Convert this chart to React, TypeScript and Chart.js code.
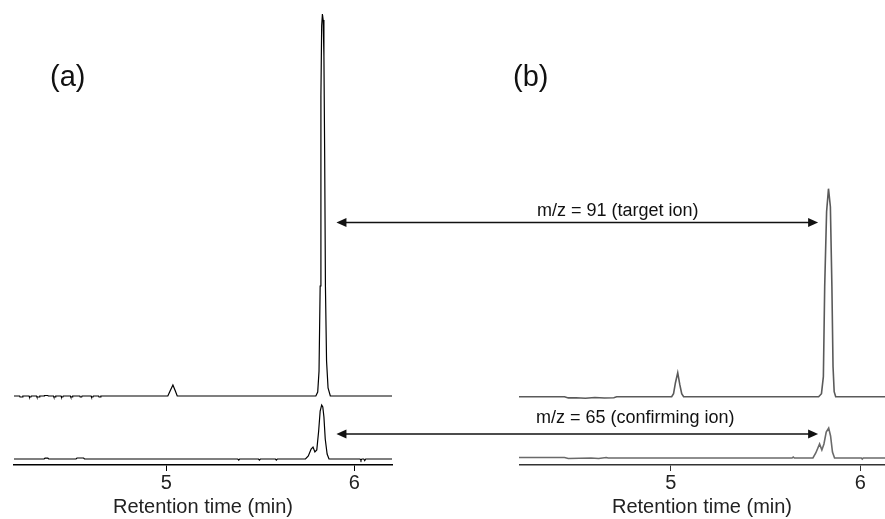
import React, { useEffect, useRef } from 'react';
import { Chart, registerables } from 'chart.js';

Chart.register(...registerables);

// ---------- data (retention time in min, abundance in arbitrary units) ----------
const TICK_VALUES = [5, 6];
const AXIS_TITLE = 'Retention time (min)';
const PANEL_LABELS = ['(a)', '(b)'];
const ION_LABELS = ['m/z = 91 (target ion)', 'm/z = 65 (confirming ion)'];
const PEAK_TIME = 5.83;

// panel (a), m/z 91
const tA91 = [4.19, 4.22, 4.222, 4.235, 4.237, 4.27, 4.272, 4.28, 4.282, 4.31, 4.312, 4.325, 4.327, 4.35, 4.352, 4.37, 4.372, 4.40, 4.402, 4.41, 4.412, 4.44, 4.442, 4.45, 4.452, 4.49, 4.492, 4.50, 4.502, 4.54, 4.542, 4.55, 4.552, 4.60, 4.602, 4.61, 4.612, 4.64, 4.642, 4.65, 4.652, 4.66, 5.008, 5.02, 5.035, 5.048, 5.058, 5.795, 5.805, 5.812, 5.818, 5.822, 5.826, 5.83, 5.834, 5.838, 5.842, 5.846, 5.852, 5.86, 5.872, 6.2];
const iA91 = [0, 0, -1, -1, 0, 0, -1, -1, 0, 0, -1, -1, 0, 0, 0.5, 0.5, 0, 0, -1, -1, 0, 0, -1, -1, 0, 0, -1, -1, 0, 0, -1, -1, 0, 0, -1, -1, 0, 0, -1, -1, 0, 0, 0, 5, 11, 5, 0, 0, 4, 25, 110, 300, 370, 382, 376, 340, 240, 110, 35, 8, 0, 0];

// panel (a), m/z 65
const tA65 = [4.19, 4.35, 4.355, 4.37, 4.375, 4.52, 4.525, 4.56, 4.565, 5.38, 5.385, 5.39, 5.49, 5.495, 5.5, 5.58, 5.585, 5.59, 5.74, 5.755, 5.77, 5.78, 5.79, 5.8, 5.81, 5.818, 5.826, 5.832, 5.838, 5.845, 5.855, 5.865, 6.03, 6.035, 6.04, 6.05, 6.055, 6.06, 6.2];
const iA65 = [0, 0, 0.8, 0.8, 0, 0, 1, 1, 0, 0, -1, 0, 0, -1, 0, 0, -1, 0, 0, 3, 10, 12, 7, 9, 28, 48, 54, 52, 42, 20, 5, 0, 0, -1.5, 0, 0, -1.5, 0, 0];

// panel (b), m/z 91
const tB91 = [4.2, 4.44, 4.46, 4.5, 4.55, 4.6, 4.65, 4.7, 4.715, 5.005, 5.015, 5.025, 5.037, 5.048, 5.058, 5.068, 5.78, 5.795, 5.805, 5.812, 5.822, 5.832, 5.842, 5.85, 5.856, 5.862, 5.87, 6.13];
const iB91 = [0, 0, -1.2, -1, -1.5, -0.8, -1.3, -1, 0, 0, 3, 14, 24, 12, 3, 0, 0, 3, 20, 110, 185, 208, 190, 110, 30, 5, 0, 0];

// panel (b), m/z 65
const tB65 = [4.2, 4.44, 4.46, 4.58, 4.62, 4.66, 4.67, 5.64, 5.646, 5.652, 5.75, 5.765, 5.785, 5.797, 5.808, 5.82, 5.833, 5.843, 5.853, 5.864, 6.005, 6.01, 6.015, 6.13];
const iB65 = [0.5, 0.5, -0.5, 0, -0.5, 0.5, 0, 0, 1, 0, 0, 5, 14, 8, 14, 26, 30, 22, 6, 0, 0, -1, 0, 0];

// ---------- layout ----------
const W = 885;
const H = 519;
const FONT = '"Liberation Sans", Arial, Helvetica, sans-serif';
const A_LEFT = 0;
const A_WIDTH = 400;
const B_LEFT = 519;
const B_WIDTH = W - B_LEFT;
const Y_MAX = 465;

function series(t: number[], v: number[], offset: number) {
  return t.map((x, k) => ({ x, y: v[k] + offset }));
}

function makeOptions(xmin: number, xmax: number, padLeft: number, padRight: number, axisColor: string): any {
  return {
    animation: false,
    responsive: false,
    events: [],
    layout: { padding: { left: padLeft, right: padRight, top: 0, bottom: 0 } },
    plugins: { legend: { display: false }, tooltip: { enabled: false } },
    elements: { point: { radius: 0 }, line: { tension: 0 } },
    scales: {
      x: {
        type: 'linear',
        min: xmin,
        max: xmax,
        afterBuildTicks: (s: any) => {
          s.ticks = TICK_VALUES.map((v) => ({ value: v }));
        },
        grid: { drawOnChartArea: false, drawTicks: true, tickLength: 6, color: axisColor, lineWidth: 1 },
        border: { display: true, color: axisColor, width: 1.5 },
        ticks: { padding: 0, color: '#222', font: { size: 20, family: FONT } },
        title: { display: true, text: AXIS_TITLE, color: '#222', padding: 0, font: { size: 20, family: FONT } },
      },
      y: { display: false, min: 0, max: Y_MAX },
    },
  };
}

function drawArrow(ctx: CanvasRenderingContext2D, x1: number, x2: number, y: number) {
  ctx.strokeStyle = '#111';
  ctx.fillStyle = '#111';
  ctx.lineWidth = 1.5;
  const head = 10;
  const half = 4.5;
  ctx.beginPath();
  ctx.moveTo(x1 + head - 1, y);
  ctx.lineTo(x2 - head + 1, y);
  ctx.stroke();
  ctx.beginPath();
  ctx.moveTo(x1, y);
  ctx.lineTo(x1 + head, y - half);
  ctx.lineTo(x1 + head, y + half);
  ctx.closePath();
  ctx.fill();
  ctx.beginPath();
  ctx.moveTo(x2, y);
  ctx.lineTo(x2 - head, y - half);
  ctx.lineTo(x2 - head, y + half);
  ctx.closePath();
  ctx.fill();
}

export default function App() {
  const refA = useRef<HTMLCanvasElement>(null);
  const refB = useRef<HTMLCanvasElement>(null);
  const refO = useRef<HTMLCanvasElement>(null);

  useEffect(() => {
    const chartA = new Chart(refA.current as HTMLCanvasElement, {
      type: 'line',
      data: {
        datasets: [
          { data: series(tA91, iA91, 69), borderColor: '#000', borderWidth: 1.2, pointRadius: 0 },
          { data: series(tA65, iA65, 6), borderColor: '#000', borderWidth: 1.2, pointRadius: 0 },
        ],
      },
      options: makeOptions(4.19, 6.2, 14, A_WIDTH - 392, '#000'),
    } as any);

    const chartB = new Chart(refB.current as HTMLCanvasElement, {
      type: 'line',
      data: {
        datasets: [
          { data: series(tB91, iB91, 68.3), borderColor: '#5a5a5a', borderWidth: 1.6, pointRadius: 0 },
          { data: series(tB65, iB65, 7), borderColor: '#6a6a6a', borderWidth: 1.6, pointRadius: 0 },
        ],
      },
      options: makeOptions(4.2, 6.13, 0, 0, '#333'),
    } as any);

    const o = refO.current as HTMLCanvasElement;
    const ctx = o.getContext('2d') as CanvasRenderingContext2D;
    ctx.clearRect(0, 0, W, H);
    const leftTip = A_LEFT + chartA.scales.x.getPixelForValue(PEAK_TIME) + 14;
    const rightTip = B_LEFT + chartB.scales.x.getPixelForValue(PEAK_TIME) - 10;
    drawArrow(ctx, leftTip, rightTip, 222.5);
    drawArrow(ctx, leftTip, rightTip, 434);

    ctx.fillStyle = '#111';
    ctx.textBaseline = 'alphabetic';
    ctx.textAlign = 'left';
    ctx.font = `18px ${FONT}`;
    ctx.fillText(ION_LABELS[0], 537, 216);
    ctx.fillText(ION_LABELS[1], 536, 423);
    ctx.font = `29px ${FONT}`;
    ctx.fillText(PANEL_LABELS[0], 50, 86);
    ctx.fillText(PANEL_LABELS[1], 513, 86);

    return () => {
      chartA.destroy();
      chartB.destroy();
    };
  }, []);

  return (
    <div style={{ position: 'absolute', left: 0, top: 0, width: W, height: H, overflow: 'hidden', background: '#fff' }}>
      <canvas ref={refA} width={A_WIDTH} height={H} style={{ position: 'absolute', left: A_LEFT, top: 0, width: A_WIDTH, height: H }} />
      <canvas ref={refB} width={B_WIDTH} height={H} style={{ position: 'absolute', left: B_LEFT, top: 0, width: B_WIDTH, height: H }} />
      <canvas ref={refO} width={W} height={H} style={{ position: 'absolute', left: 0, top: 0, width: W, height: H, pointerEvents: 'none' }} />
    </div>
  );
}
